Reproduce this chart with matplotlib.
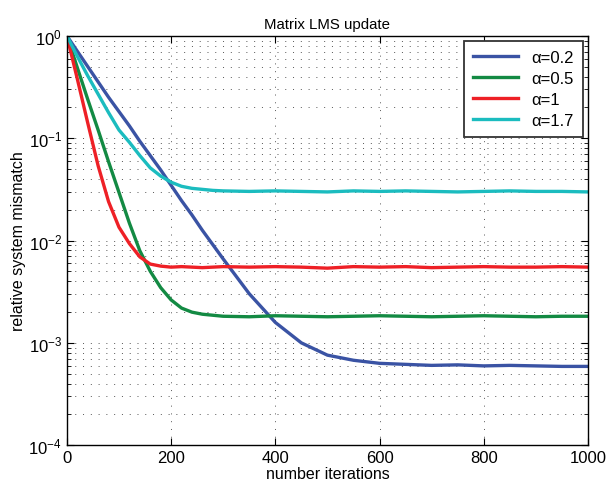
import matplotlib
matplotlib.use("Agg")
import matplotlib.pyplot as plt
import numpy as np

plt.rcParams['font.family'] = ['Liberation Sans', 'DejaVu Sans']

# iteration grid and log10 of the relative mismatch
iters = [0, 20, 40, 60, 80, 100, 120, 140, 160, 180, 200, 220, 240, 260, 280, 300,
         350, 400, 450, 500, 550, 600, 650, 700, 750, 800, 850, 900, 950, 1000]

log_a02 = [0, -0.15, -0.30, -0.45, -0.60, -0.74, -0.88, -1.03, -1.17, -1.31, -1.46,
           -1.61, -1.75, -1.90, -2.04, -2.18, -2.52, -2.80, -3.00, -3.12, -3.17,
           -3.20, -3.21, -3.22, -3.215, -3.225, -3.22, -3.225, -3.23, -3.23]
log_a05 = [0, -0.31, -0.62, -0.92, -1.23, -1.53, -1.83, -2.10, -2.30, -2.46, -2.58,
           -2.66, -2.70, -2.72, -2.73, -2.74, -2.745, -2.735, -2.74, -2.745, -2.74,
           -2.735, -2.74, -2.745, -2.74, -2.735, -2.74, -2.745, -2.74, -2.74]
log_a1 = [0, -0.42, -0.85, -1.27, -1.62, -1.87, -2.03, -2.16, -2.23, -2.25, -2.26,
          -2.255, -2.26, -2.265, -2.26, -2.255, -2.26, -2.255, -2.26, -2.27, -2.255,
          -2.26, -2.255, -2.265, -2.26, -2.255, -2.26, -2.26, -2.255, -2.26]
log_a17 = [0, -0.20, -0.39, -0.57, -0.75, -0.92, -1.04, -1.17, -1.29, -1.37, -1.43,
           -1.47, -1.49, -1.50, -1.51, -1.515, -1.52, -1.515, -1.52, -1.525, -1.515,
           -1.52, -1.515, -1.52, -1.525, -1.52, -1.515, -1.52, -1.52, -1.525]

labels = [u'\u03b1=0.2', u'\u03b1=0.5', u'\u03b1=1', u'\u03b1=1.7']
colors = ['#3a53a4', '#138a43', '#ee2026', '#1bbcbf']

fig = plt.figure(figsize=(6.08, 4.85), dpi=100)
ax = fig.add_axes([0.110, 0.080, 0.857, 0.844])

x = np.array(iters)
for ys, lab, c in zip([log_a02, log_a05, log_a1, log_a17], labels, colors):
    ax.semilogy(x, 10.0 ** np.array(ys), color=c, lw=2.4, label=lab)

ax.set_xlim(0, 1000)
ax.set_ylim(1e-4, 1)
ax.set_xticks([0, 200, 400, 600, 800, 1000])
ax.tick_params(which='both', direction='in', top=True, right=True, labelsize=12)
ax.tick_params(which='major', length=5)
ax.tick_params(which='minor', length=3)
dots = (0, (1, 7))
ax.grid(True, which='major', axis='both', ls=dots, color='#555555', lw=0.7)
ax.grid(True, which='minor', axis='y', ls=dots, color='#555555', lw=0.7)
for s in ax.spines.values():
    s.set_linewidth(1.0)

ax.set_title('Matrix LMS update', fontsize=10.8)
ax.set_xlabel('number iterations', fontsize=11.5, labelpad=1)
ax.set_ylabel('relative system mismatch', fontsize=11.5, labelpad=2)

leg = ax.legend(loc='upper right', fontsize=12, fancybox=False, framealpha=1,
                edgecolor='#333333', handlelength=2.7, borderpad=0.55,
                labelspacing=0.36, borderaxespad=0.3)
leg.get_frame().set_linewidth(1.3)

fig.savefig('out.png', dpi=100)
